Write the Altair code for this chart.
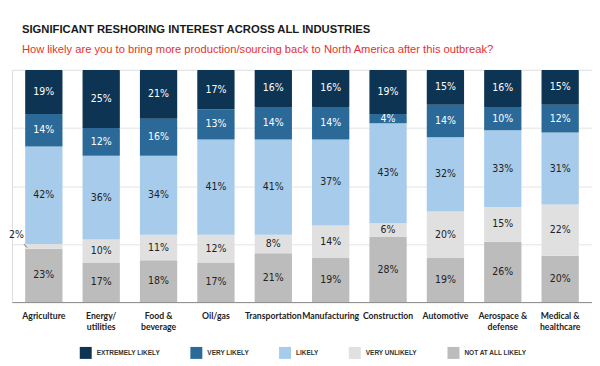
import altair as alt
import pandas as pd

categories = ["Agriculture", "Energy/|utilities", "Food &|beverage", "Oil/gas", "Transportation",
              "Manufacturing", "Construction", "Automotive", "Aerospace &|defense", "Medical &|healthcare"]
series = ["EXTREMELY LIKELY", "VERY LIKELY", "LIKELY", "VERY UNLIKELY", "NOT AT ALL LIKELY"]
colors = ["#0d3453", "#2b6a98", "#a7cbea", "#e0e0e0", "#bdbcbc"]
text_colors = ["#ffffff", "#ffffff", "#222222", "#222222", "#222222"]

extremely_likely = [19, 25, 21, 17, 16, 16, 19, 15, 16, 15]
very_likely = [14, 12, 16, 13, 14, 14, 4, 14, 10, 12]
likely = [42, 36, 34, 41, 41, 37, 43, 32, 33, 31]
very_unlikely = [2, 10, 11, 12, 8, 14, 6, 20, 15, 22]
not_at_all_likely = [23, 17, 18, 17, 21, 19, 28, 19, 26, 20]

values = [extremely_likely, very_likely, likely, very_unlikely, not_at_all_likely]

rows = []
for ci, cat in enumerate(categories):
    base = 0
    # stack from bottom: NOT AT ALL LIKELY first
    for si in reversed(range(len(series))):
        v = values[si][ci]
        rows.append({"cat": cat, "series": series[si], "value": v,
                     "y0": base, "y1": base + v, "mid": base + v / 2,
                     "label": f"{v}%", "tcolor": text_colors[si]})
        base += v
df = pd.DataFrame(rows)

FONT = "DejaVu Sans Condensed, sans-serif"
AXFONT = "Lato, Roboto, sans-serif"

x = alt.X("cat:N", sort=categories, title=None,
          scale=alt.Scale(paddingInner=0.35, paddingOuter=0.23),
          axis=alt.Axis(labelExpr="split(datum.label, '|')", labelAngle=0, ticks=False,
                        domainColor="#8a8a8a", domainWidth=1, labelPadding=9,
                        labelFont=AXFONT, labelFontSize=8.7, labelFontWeight="bold",
                        labelColor="#222222", labelLineHeight=12, labelBaseline="top"))
yscale = alt.Scale(domain=[0, 100], nice=False)

bars = alt.Chart(df).mark_bar(cornerRadiusTopLeft=1, cornerRadiusTopRight=1).encode(
    x=x,
    y=alt.Y("y0:Q", scale=yscale, title=None,
            axis=alt.Axis(labels=False, ticks=False, domain=False, grid=True,
                          values=[0, 25, 50, 75, 100], gridColor="#e4e4e4", gridWidth=1)),
    y2="y1:Q",
    color=alt.Color("series:N", scale=alt.Scale(domain=series, range=colors),
                    legend=alt.Legend(title=None, orient="none", direction="horizontal",
                                      legendX=68, legendY=278, symbolType="square",
                                      symbolSize=144, symbolStrokeWidth=0,
                                      symbolOpacity=1, columnPadding=30, labelOffset=5,
                                      labelFont="Liberation Sans", labelFontSize=6.5,
                                      labelFontWeight="bold", labelColor="#333333")),
)

labels = alt.Chart(df).transform_filter("datum.value >= 3").mark_text(
    font=FONT, fontSize=10.5, fontWeight="normal", baseline="middle"
).encode(
    x=alt.X("cat:N", sort=categories),
    y=alt.Y("mid:Q", scale=yscale),
    text="label:N",
    color=alt.Color("tcolor:N", scale=None),
)

small_text = alt.Chart(df).transform_filter("datum.value < 3").mark_text(
    font=FONT, fontSize=10.5, align="right", baseline="middle", dx=-20, dy=-11, color="#222222"
).encode(
    x=alt.X("cat:N", sort=categories),
    y=alt.Y("mid:Q", scale=yscale),
    text="label:N",
)

leader = alt.Chart(df).transform_filter("datum.value < 3").transform_calculate(
    ya="datum.mid + 1", yb="datum.mid - 0.5"
).mark_rule(color="#555555", strokeWidth=0.8, xOffset=-20, x2Offset=-17).encode(
    x=alt.X("cat:N", sort=categories),
    x2="cat:N",
    y=alt.Y("ya:Q", scale=yscale),
    y2="yb:Q",
)

chart = alt.layer(bars, labels, small_text, leader).properties(
    width=582, height=233,
    padding={"left": 0, "top": 14.5, "right": 0, "bottom": 0},
    title=alt.TitleParams(
        text="SIGNIFICANT RESHORING INTEREST ACROSS ALL INDUSTRIES",
        subtitle="How likely are you to bring more production/sourcing back to North America after this outbreak?",
        anchor="start", dx=13, offset=15,
        font="Liberation Sans", fontSize=11.3, fontWeight="bold", color="#1a1a1a",
        subtitleFont="Liberation Sans", subtitleFontSize=11.2, subtitleColor="#e8312a",
        subtitlePadding=9,
    ),
).configure_view(stroke=None).configure(background="white")

chart.save("out.html", embed_options={"renderer": "svg", "actions": False})
